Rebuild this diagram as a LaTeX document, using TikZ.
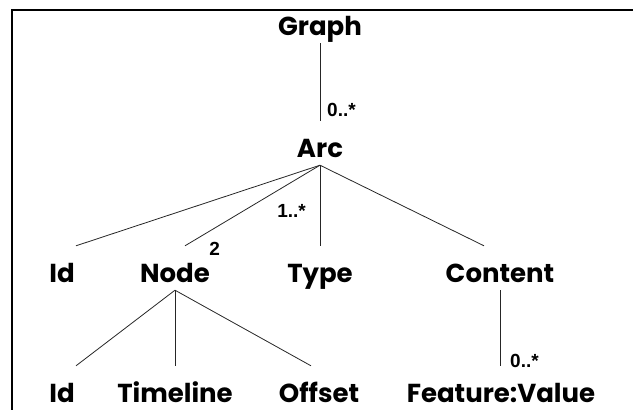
\documentclass[tikz,border=0pt]{standalone}
\usepackage{fontspec}
\setmainfont{Poppins}
\newfontfamily\multfont{Liberation Sans}

\begin{document}
\begin{tikzpicture}[x=1pt,y=1pt]
      \tikzstyle{every node}+=[inner sep=0pt]
      \tikzstyle{cls}=[font=\fontsize{26}{26}\selectfont\bfseries, text height=36pt, text depth=8pt]
      \tikzstyle{multlabel}=[font=\multfont\fontsize{19}{19}\selectfont\bfseries]
      \tikzstyle{conn}=[black!85, line width=0.8pt]
      \useasboundingbox (0,0) rectangle (633,-410);
      \draw [black, line width=2pt] (12,-410) -- (12,-10) -- (633,-10);
      % classes
      \node [cls, anchor=base] (graph) at (320,-35) {Graph};
      \node [cls, anchor=base] (arc) at (320,-157) {Arc};
      \node [cls, anchor=base] (id) at (62,-282) {Id};
      \node [cls, anchor=base] (node) at (175,-282) {Node};
      \node [cls, anchor=base] (type) at (320,-282) {Type};
      \node [cls, anchor=base] (content) at (500,-282) {Content};
      \node [cls, anchor=base] (nodeid) at (62,-402) {Id};
      \node [cls, anchor=base] (timeline) at (175,-402) {Timeline};
      \node [cls, anchor=base] (offset) at (319,-402) {Offset};
      \node [cls, anchor=base] (feature) at (501,-402) {Feature:Value};
      % links
      \draw [conn] (graph.south) -- (arc.north);
      \draw [conn] (arc.south) -- ([xshift=14pt]id.north);
      \draw [conn] (arc.south) -- ([xshift=10pt]node.north);
      \draw [conn] (arc.south) -- (type.north);
      \draw [conn] (arc.south) -- ([xshift=-16pt]content.north);
      \draw [conn] (node.south) -- ([xshift=14pt]nodeid.north);
      \draw [conn] (node.south) -- (timeline.north);
      \draw [conn] (node.south) -- ([xshift=-8pt]offset.north);
      \draw [conn] (content.south) -- (content.south |- feature.north);
      % multiplicities
      \node [multlabel, anchor=base west] (m0) at ([xshift=7pt,yshift=4pt]arc.north) {0..*};
      \node [multlabel, anchor=base east] (m1) at ([xshift=-14pt,yshift=28pt]type.north) {1..*};
      \node [multlabel, anchor=base west] (m2) at ([xshift=-1pt,yshift=27pt]node.base east) {2};
      \node [multlabel, anchor=base west] (m3) at ([xshift=9pt,yshift=-2pt]feature.north) {0..*};
\end{tikzpicture}
\end{document}
